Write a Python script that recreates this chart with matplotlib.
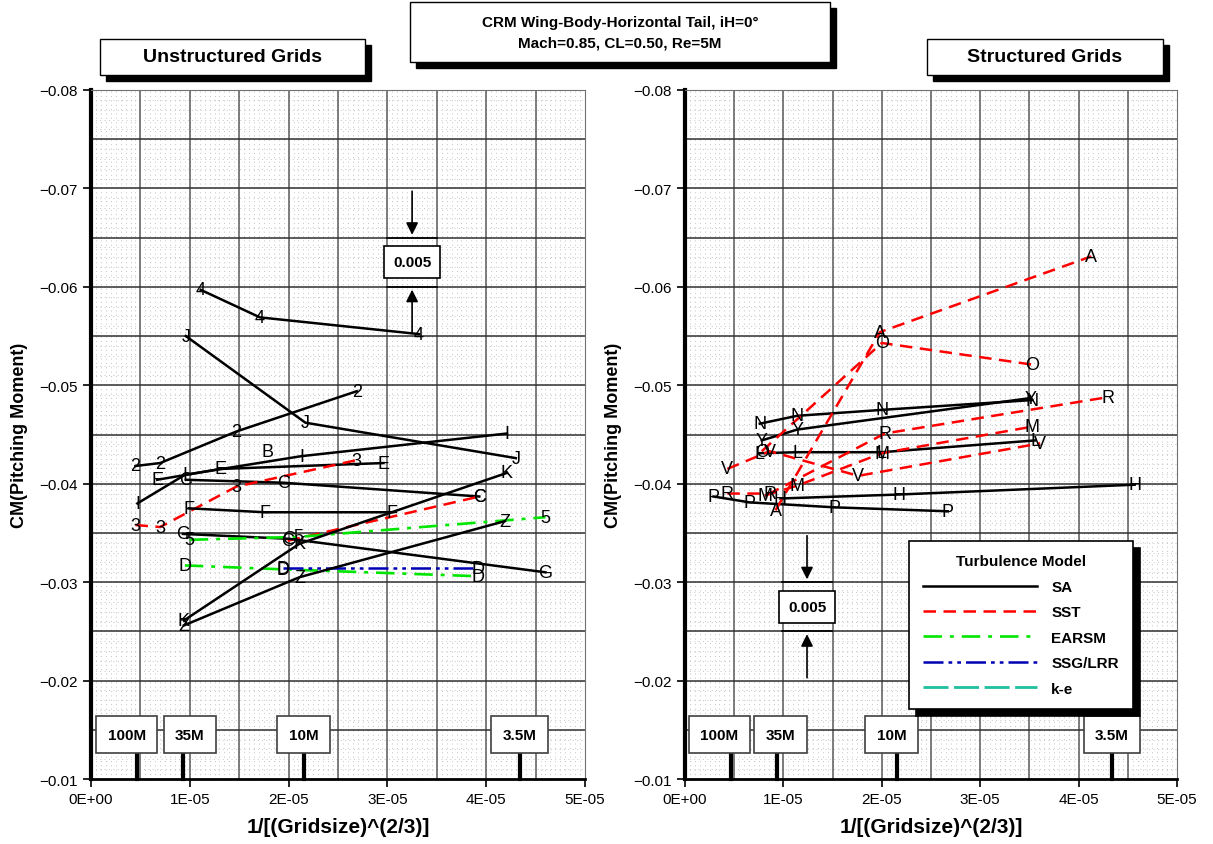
import numpy as np
import matplotlib.pyplot as plt
from matplotlib.lines import Line2D
from matplotlib.patches import Rectangle

plt.rcParams['font.family'] = ['Liberation Sans', 'DejaVu Sans']

# ---- data (x = 1/N^(2/3), y = CM) ----
# unstructured grids
uns_codes = ['4', 'J', '2', 'I', 'E', 'C', '3', 'C', 'F', 'G', '5', 'D', 'D', 'K', 'Z', 'B']
uns_models = ['SA', 'SA', 'SA', 'SA', 'SA', 'SA', 'SST', 'SST', 'SA', 'SA', 'EARSM', 'EARSM',
              'SSG/LRR', 'SA', 'SA', 'SA']
uns_x = [[1.11e-5, 1.71e-5, 3.32e-5],
         [0.96e-5, 2.17e-5, 4.30e-5],
         [0.45e-5, 0.70e-5, 1.47e-5, 2.69e-5],
         [0.47e-5, 0.95e-5, 2.13e-5, 4.21e-5],
         [0.67e-5, 1.31e-5, 2.96e-5],
         [0.96e-5, 1.95e-5, 3.93e-5],
         [0.45e-5, 0.70e-5, 1.47e-5, 2.69e-5],
         [1.99e-5, 3.93e-5],
         [0.99e-5, 1.76e-5, 3.05e-5],
         [0.93e-5, 2.01e-5, 4.60e-5],
         [1.00e-5, 2.10e-5, 4.60e-5],
         [0.95e-5, 1.94e-5, 3.92e-5],
         [1.94e-5, 3.92e-5],
         [0.94e-5, 2.11e-5, 4.21e-5],
         [0.94e-5, 2.11e-5, 4.19e-5],
         [1.79e-5]]
uns_y = [[-0.0597, -0.0569, -0.0552],
         [-0.0550, -0.0462, -0.0426],
         [-0.0418, -0.0421, -0.0453, -0.0494],
         [-0.0380, -0.0409, -0.0428, -0.0451],
         [-0.0404, -0.0415, -0.0421],
         [-0.0404, -0.0401, -0.0387],
         [-0.0358, -0.0356, -0.0397, -0.0424],
         [-0.0342, -0.0387],
         [-0.0375, -0.0371, -0.0371],
         [-0.0349, -0.0344, -0.0310],
         [-0.0343, -0.0346, -0.0366],
         [-0.0317, -0.0313, -0.0306],
         [-0.0314, -0.0314],
         [-0.0261, -0.0339, -0.0411],
         [-0.0256, -0.0305, -0.0362],
         [-0.0433]]

# structured grids
str_codes = ['N', 'Y', 'L', 'H', 'P', 'A', 'O', 'V', 'R', 'M']
str_models = ['SA', 'SA', 'SA', 'SA', 'SA', 'SST', 'SST', 'SST', 'SST', 'SST']
str_x = [[0.76e-5, 1.14e-5, 2.00e-5, 3.53e-5],
         [0.78e-5, 1.14e-5, 3.51e-5],
         [0.76e-5, 1.14e-5, 2.00e-5, 3.56e-5],
         [0.97e-5, 2.17e-5, 4.57e-5],
         [0.29e-5, 0.66e-5, 1.52e-5, 2.67e-5],
         [0.92e-5, 1.98e-5, 4.13e-5],
         [0.78e-5, 2.00e-5, 3.53e-5],
         [0.43e-5, 0.86e-5, 1.76e-5, 3.61e-5],
         [0.43e-5, 0.86e-5, 2.03e-5, 4.30e-5],
         [0.81e-5, 1.14e-5, 2.00e-5, 3.53e-5]]
str_y = [[-0.0461, -0.0469, -0.0475, -0.0485],
         [-0.0444, -0.0455, -0.0487],
         [-0.0431, -0.0432, -0.0432, -0.0444],
         [-0.0385, -0.0389, -0.0399],
         [-0.0387, -0.0381, -0.0376, -0.0372],
         [-0.0373, -0.0554, -0.0631],
         [-0.0433, -0.0543, -0.0521],
         [-0.0415, -0.0433, -0.0408, -0.0441],
         [-0.0390, -0.0390, -0.0451, -0.0488],
         [-0.0388, -0.0398, -0.0431, -0.0458]]

grid_sizes = [100e6, 35e6, 10e6, 3.5e6]
grid_labels = ['100M', '35M', '10M', '3.5M']
model_names = ['SA', 'SST', 'EARSM', 'SSG/LRR', 'k-e']
xtick_vals = [0, 1e-5, 2e-5, 3e-5, 4e-5, 5e-5]
xtick_labels = ['0E+00', '1E-05', '2E-05', '3E-05', '4E-05', '5E-05']
ytick_vals = [-0.08, -0.07, -0.06, -0.05, -0.04, -0.03, -0.02, -0.01]
ytick_labels = ['\u22120.08', '\u22120.07', '\u22120.06', '\u22120.05', '\u22120.04',
                '\u22120.03', '\u22120.02', '\u22120.01']

styles = {
    'SA': dict(color='black', linestyle='-', linewidth=1.8),
    'SST': dict(color='#ff0000', linestyle=(0, (5, 3)), linewidth=1.8),
    'EARSM': dict(color='#00e600', linestyle=(0, (7, 3, 1.5, 3)), linewidth=1.9),
    'SSG/LRR': dict(color='#0000b4', linestyle=(0, (8, 2, 1.5, 2, 1.5, 2)), linewidth=1.8),
    'k-e': dict(color='#1fbf9f', linestyle=(0, (9, 2)), linewidth=2.0),
}

fig = plt.figure(figsize=(12.13, 8.45), dpi=100)
W, H = 1213.0, 845.0


def fig_box(x0, y0, x1, y1, lines, fs):
    # white box with black drop shadow, pixel coords from top-left
    sh = 6
    fig.patches.append(Rectangle(((x0 + sh) / W, 1 - (y1 + sh) / H), (x1 - x0) / W, (y1 - y0) / H,
                                 transform=fig.transFigure, facecolor='black', edgecolor='black'))
    fig.patches.append(Rectangle((x0 / W, 1 - y1 / H), (x1 - x0) / W, (y1 - y0) / H,
                                 transform=fig.transFigure, facecolor='white', edgecolor='black', lw=1))
    fig.text((x0 + x1) / 2 / W, 1 - (y0 + y1) / 2 / H, lines, ha='center', va='center',
             fontsize=fs, fontweight='bold', linespacing=1.6)


def setup(ax):
    ax.set_xlim(0, 5e-5)
    ax.set_ylim(-0.01, -0.08)
    # fine dotted grid
    for xv in np.arange(0, 5e-5, 0.5e-6):
        ax.axvline(xv, color='#c4c4c4', lw=0.7, ls=(0, (1, 3.5)), zorder=0)
    for yv in np.arange(-0.08, -0.01, 0.001):
        ax.axhline(yv, color='#c4c4c4', lw=0.7, ls=(0, (1, 3.5)), zorder=0)
    for xv in np.arange(0.5e-5, 5e-5, 0.5e-5):
        ax.axvline(xv, color='#5a5a5a', lw=1.1, zorder=1)
    for yv in np.arange(-0.075, -0.01, 0.005):
        ax.axhline(yv, color='#303030', lw=1.1, zorder=1)
    ax.set_xticks(xtick_vals)
    ax.set_xticklabels(xtick_labels)
    ax.set_yticks(ytick_vals)
    ax.set_yticklabels(ytick_labels)
    ax.tick_params(labelsize=11, length=6, width=1.2, direction='out')
    ax.spines['left'].set_linewidth(3)
    ax.spines['bottom'].set_linewidth(2)
    ax.spines['top'].set_color('#707070')
    ax.spines['right'].set_color('#707070')
    ax.set_xlabel('1/[(Gridsize)^(2/3)]', fontsize=15, fontweight='bold', labelpad=8)
    ax.set_ylabel('CM(Pitching Moment)', fontsize=13, fontweight='bold', labelpad=8)


def draw_series(ax, codes, models, xs, ys):
    for c, m, x, y in zip(codes, models, xs, ys):
        if len(x) > 1:
            ax.plot(x, y, zorder=3, **styles[m])
        for xi, yi in zip(x, y):
            ax.text(xi, yi, c, ha='center', va='center', fontsize=13, zorder=5)


def grid_markers(ax, box_x):
    for n, lab, bx in zip(grid_sizes, grid_labels, box_x):
        xv = 1.0 / n ** (2.0 / 3.0)
        ax.plot([xv, xv], [-0.01, -0.0135], color='black', lw=3, zorder=4, clip_on=False)
        ax.text(bx, -0.0145, lab, ha='center', va='center', fontsize=11, fontweight='bold', zorder=6,
                bbox=dict(boxstyle='square,pad=0.75', fc='white', ec='#404040', lw=1.2))


def span_marker(ax, xc, ytop, ybot):
    ax.plot([xc - 0.25e-5, xc + 0.25e-5], [ytop, ytop], color='black', lw=1.2, zorder=6)
    ax.plot([xc - 0.25e-5, xc + 0.25e-5], [ybot, ybot], color='black', lw=1.2, zorder=6)
    ax.annotate('', xy=(xc, ytop), xytext=(xc, ytop - 0.005),
                arrowprops=dict(arrowstyle='-|>', color='black', lw=1.2, mutation_scale=18), zorder=6)
    ax.annotate('', xy=(xc, ybot), xytext=(xc, ybot + 0.005),
                arrowprops=dict(arrowstyle='-|>', color='black', lw=1.2, mutation_scale=18), zorder=6)
    ax.text(xc, (ytop + ybot) / 2, '0.005', ha='center', va='center', fontsize=11, fontweight='bold',
            zorder=7, bbox=dict(boxstyle='square,pad=0.6', fc='white', ec='black', lw=1.2))


ax1 = fig.add_axes([91 / W, 1 - 780 / H, 494 / W, 689 / H])
ax2 = fig.add_axes([685 / W, 1 - 780 / H, 492 / W, 689 / H])

for ax in (ax1, ax2):
    setup(ax)

draw_series(ax1, uns_codes, uns_models, uns_x, uns_y)
draw_series(ax2, str_codes, str_models, str_x, str_y)

grid_markers(ax1, [0.36e-5, 1.0e-5, 2.15e-5, 4.34e-5])
grid_markers(ax2, [0.35e-5, 0.97e-5, 2.1e-5, 4.34e-5])

span_marker(ax1, 3.25e-5, -0.065, -0.060)
span_marker(ax2, 1.24e-5, -0.030, -0.025)

handles = [Line2D([], [], **styles[m]) for m in model_names]
leg = ax2.legend(handles, model_names, loc='upper left', bbox_to_anchor=(0.44, 0.357),
                 title='Turbulence Model', fontsize=11, handlelength=7.5, labelspacing=0.75,
                 borderpad=0.9, handletextpad=0.9, fancybox=False, framealpha=1,
                 edgecolor='black', shadow={'ox': 5, 'oy': -5, 'color': 'black', 'alpha': 1})
leg.get_title().set_fontweight('bold')
leg.get_title().set_fontsize(11)
for t in leg.get_texts():
    t.set_fontweight('bold')
leg.get_frame().set_linewidth(1.2)
leg.set_zorder(10)

fig_box(100, 40, 365, 76, 'Unstructured Grids', 14)
fig_box(927, 40, 1163, 76, 'Structured Grids', 14)
fig_box(410, 3, 830, 63, 'CRM Wing-Body-Horizontal Tail, iH=0\u00b0\nMach=0.85, CL=0.50, Re=5M', 11)

fig.savefig('out.png', dpi=100)
